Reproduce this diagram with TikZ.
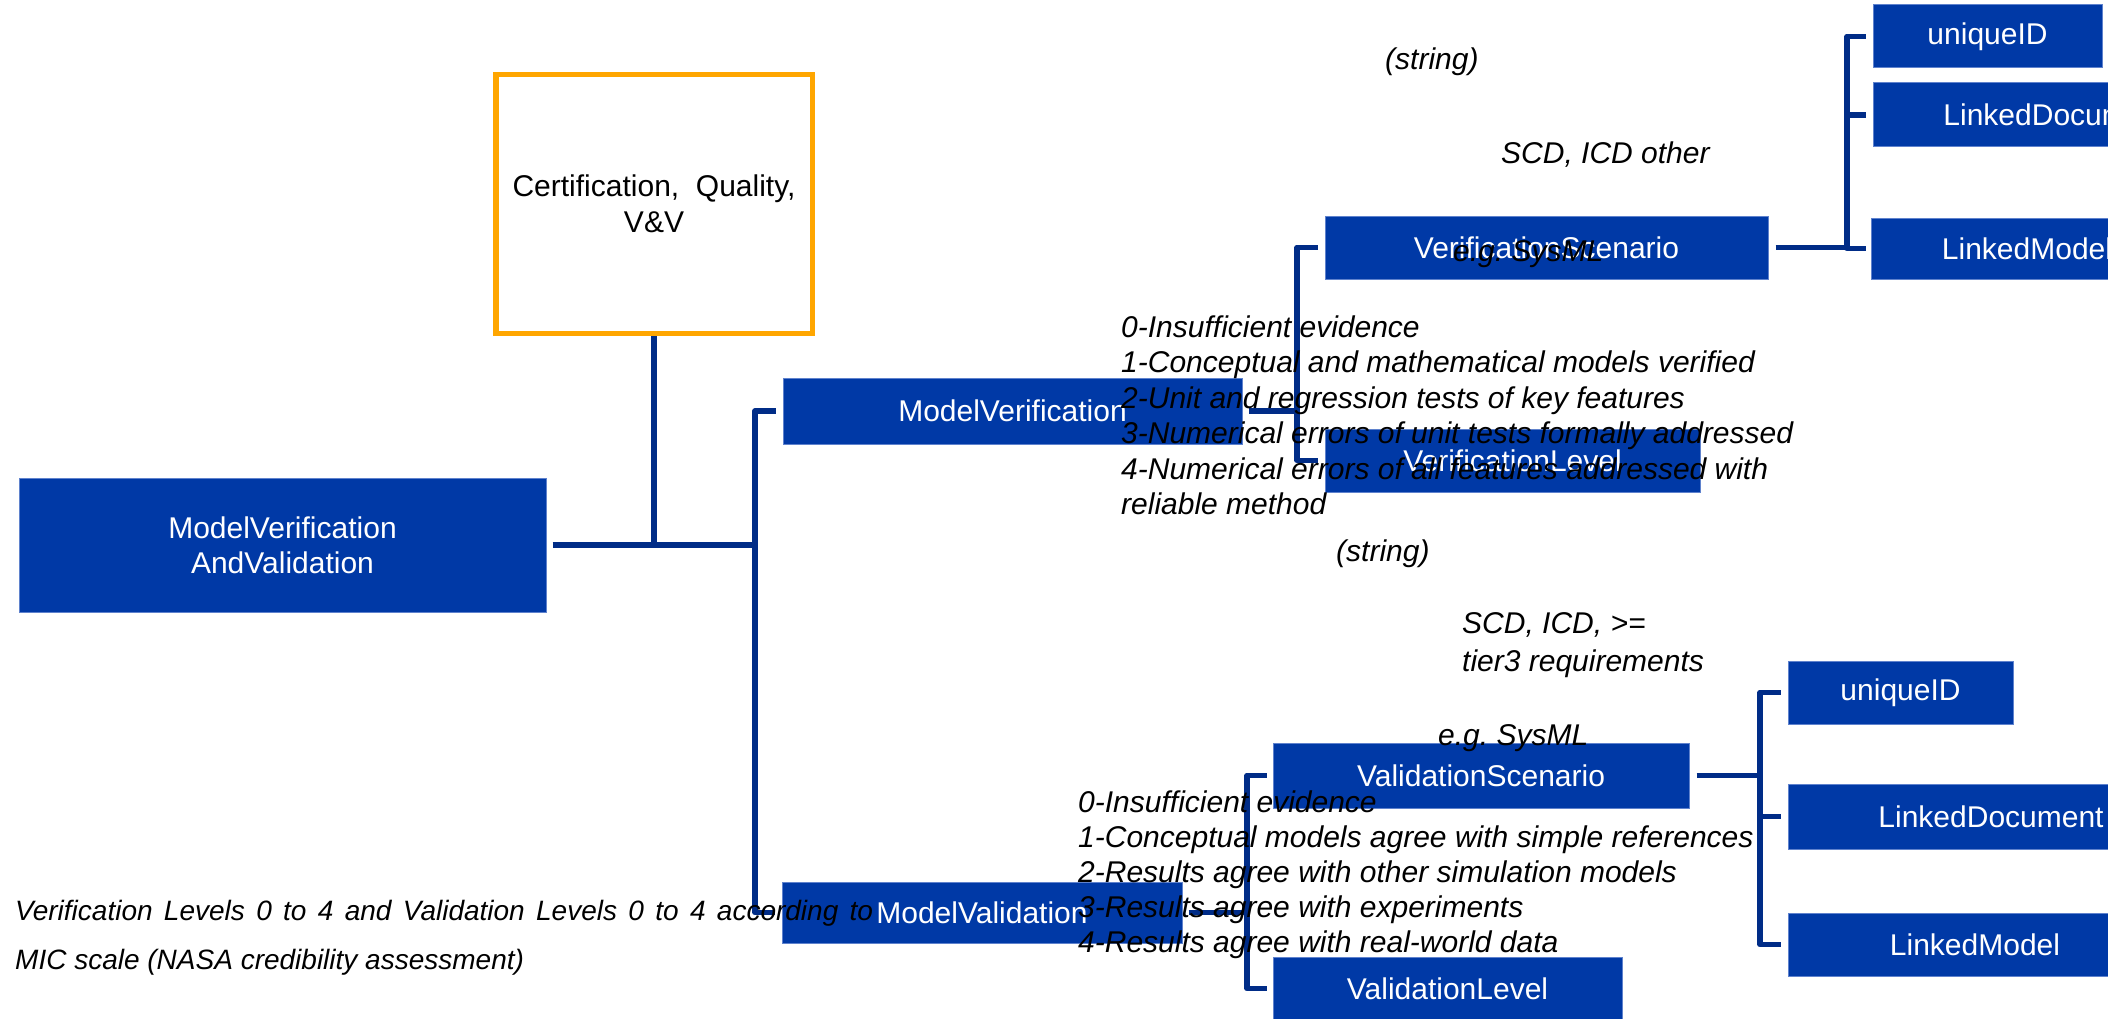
\documentclass[tikz,border=0pt]{standalone}
\usepackage{fontspec}
\setmainfont{Liberation Sans}
\definecolor{boxblue}{RGB}{0,57,166}
\definecolor{edgeblue}{RGB}{95,130,205}
\definecolor{linkblue}{RGB}{0,44,135}
\definecolor{certorange}{RGB}{255,166,0}
\tikzset{
  blk/.style={fill=boxblue, draw=edgeblue, line width=1pt, text=white,
    inner sep=0pt, align=center, font=\fontsize{30}{35}\selectfont},
  certbox/.style={draw=certorange, line width=5.5pt, inner sep=0pt,
    align=center, font=\fontsize{30}{36}\selectfont},
  conn/.style={draw=linkblue, line width=5.5pt, line join=round},
  % multi-line labels are placed by the baseline of their last line
  lbl/.style={inner sep=0pt, anchor=base west, align=left,
    font=\itshape\fontsize{30}{35.5}\selectfont},
}
\begin{document}
\begin{tikzpicture}[x=1pt,y=-1pt]
\useasboundingbox (0,0) rectangle (2108,1019);
\clip (0,0) rectangle (2108,1019);
\fill[white] (0,0) rectangle (2108,1019);

% root, quality box and first level
\node[blk, minimum width=527pt, minimum height=134pt] (mvav) at (282.5,545) {ModelVerification\\AndValidation};
\node[certbox, minimum width=316.5pt, minimum height=258.5pt] (cert) at (654,204) {Certification,~ Quality,\\V\&V};
\node[blk, minimum width=459pt, minimum height=66pt] (mver) at (1012.5,411) {ModelVerification};
\node[blk, minimum width=400pt, minimum height=61pt] (mval) at (982,912.5) {ModelValidation};

% verification branch
\node[blk, minimum width=443pt, minimum height=63pt] (vscen) at (1546.5,247.5) {VerificationScenario};
\node[blk, minimum width=375pt, minimum height=63pt] (vlev) at (1512.5,460.5) {VerificationLevel};
\node[blk, minimum width=229pt, minimum height=63pt] (uidA) at (1987.5,36.5) {uniqueID};
\node[blk, minimum width=366pt, minimum height=64pt] (ldocA) at (2056,115) {LinkedDocument};
\node[blk, minimum width=312pt, minimum height=61pt] (lmodA) at (2027,248.5) {LinkedModel};

% validation branch
\node[blk, minimum width=416pt, minimum height=65pt] (vscB) at (1481,775.5) {ValidationScenario};
\node[blk, minimum width=349pt, minimum height=63pt] (vlevB) at (1447.5,988.5) {ValidationLevel};
\node[blk, minimum width=225pt, minimum height=63pt] (uidB) at (1900.5,692.5) {uniqueID};
\node[blk, minimum width=406pt, minimum height=65pt] (ldocB) at (1991,816.5) {LinkedDocument};
\node[blk, minimum width=374pt, minimum height=63pt] (lmodB) at (1975,944.5) {LinkedModel};

% bracket junctions
\coordinate (trunk) at (755,545);
\coordinate (jver) at (1297,411);
\coordinate (jval) at (1247,912.5);
\coordinate (jvs) at (1847,247.5);
\coordinate (jvb) at (1760,775.5);

% connectors
\draw[conn] ([xshift=6pt]mvav.east) -- (trunk);
\draw[conn] (cert.south) -- (cert.south |- mvav.east);
\draw[conn] ([xshift=-7pt]mver.west) -| (trunk) |- ([xshift=-7pt]mval.west);

\draw[conn] ([xshift=6pt]mver.east) -- (jver);
\draw[conn] ([xshift=-7pt]vscen.west) -| (jver) |- ([xshift=-7pt]vlev.west);

\draw[conn] ([xshift=6pt]mval.east) -- (jval);
\draw[conn] ([xshift=-6pt]vscB.west) -| (jval) |- ([xshift=-6pt]vlevB.west);

\draw[conn] ([xshift=7pt]vscen.east) -- (jvs);
\draw[conn] ([xshift=-7pt]uidA.west) -| (jvs) |- ([xshift=-5pt]lmodA.west);
\draw[conn] (ldocA.west -| jvs) -- ([xshift=-7pt]ldocA.west);

\draw[conn] ([xshift=7pt]vscB.east) -- (jvb);
\draw[conn] ([xshift=-7pt]uidB.west) -| (jvb) |- ([xshift=-7pt]lmodB.west);
\draw[conn] (ldocB.west -| jvb) -- ([xshift=-7pt]ldocB.west);

% annotations
\node[lbl] (strA) at (1385,70) {(string)};
\node[lbl] (scdA) at (1501,164) {SCD, ICD other};
\node[lbl] (egA) at (1453,261) {e.g.\ SysML};
\node[lbl] (vlist) at (1121,514.5) {0-Insufficient evidence\\1-Conceptual and mathematical models verified\\2-Unit and regression tests of key features\\3-Numerical errors of unit tests formally addressed\\4-Numerical errors of all features addressed with\\reliable method};
\node[lbl] (strB) at (1336,561) {(string)};
\node[lbl, font=\itshape\fontsize{30}{38}\selectfont] (scdB) at (1462,671) {SCD, ICD, >=\\tier3 requirements};
\node[lbl] (egB) at (1438,745) {e.g.\ SysML};
\node[lbl, font=\itshape\fontsize{30}{35}\selectfont] (valist) at (1078,952) {0-Insufficient evidence\\1-Conceptual models agree with simple references\\2-Results agree with other simulation models\\3-Results agree with experiments\\4-Results agree with real-world data};
\node[lbl, font=\itshape\fontsize{28}{49}\selectfont] (note) at (15,969) {\makebox[858pt][s]{Verification Levels 0 to 4 and Validation Levels 0 to 4 according to}\\MIC scale (NASA credibility assessment)};
\end{tikzpicture}
\end{document}
